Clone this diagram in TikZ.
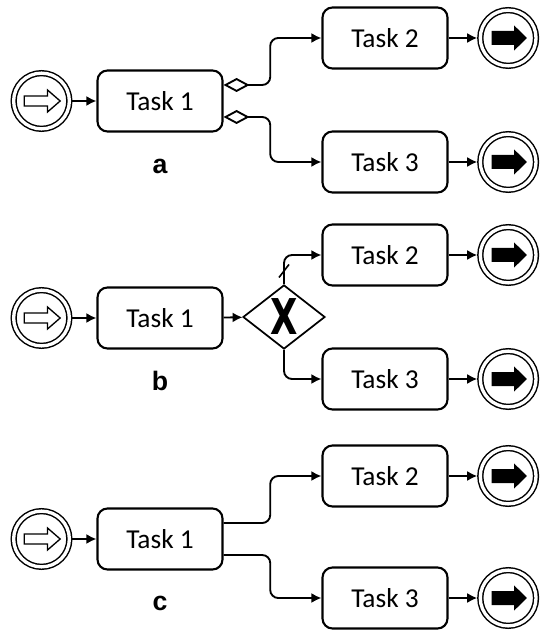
\documentclass[tikz,border=0pt]{standalone}
\usepackage{fontspec}
\setmainfont{Carlito}
\newfontfamily\panelfont{Liberation Sans}
\newfontfamily\gatefont{DejaVu Sans}
\usetikzlibrary{positioning,shapes.geometric,arrows.meta}

\tikzset{
  task/.style={draw, line width=1.6pt, rounded corners=7.5pt, minimum width=93.75pt,
    minimum height=45.75pt, inner sep=0pt, font=\fontsize{20.5}{24}\selectfont},
  event/.style={circle, draw, line width=1.1pt, double, double distance=2.5pt,
    minimum size=41.8pt, inner sep=0pt, outer sep=2.3pt},
  startevent/.style={event, path picture={
    \draw[line width=1pt, fill=white] ([shift={(-13pt,-3.75pt)}]path picture bounding box.center)
      -- ++(17.5pt,0) -- ++(0,-4.5pt) -- ++(9.5pt,8.25pt) -- ++(-9.5pt,8.25pt)
      -- ++(0,-4.5pt) -- ++(-17.5pt,0) -- cycle;}},
  endevent/.style={event, path picture={
    \fill ([shift={(-12.5pt,-5.25pt)}]path picture bounding box.center)
      -- ++(17pt,0) -- ++(0,-4.15pt) -- ++(9.5pt,9.4pt) -- ++(-9.5pt,9.4pt)
      -- ++(0,-4.15pt) -- ++(-17pt,0) -- cycle;}},
  flow/.style={line width=1.4pt, rounded corners=6pt, -{Latex[length=7.5pt,width=7.5pt]}},
  condflow/.style={flow, {Diamond[open,length=19.5pt,width=10.5pt]}-{Latex[length=7.5pt,width=7.5pt]}},
  gateway/.style={diamond, draw, line width=1.3pt, minimum width=61.5pt, minimum height=48pt,
    inner sep=0pt, font=\gatefont\bfseries\fontsize{37}{37}\selectfont},
  panel/.style={font=\panelfont\bfseries\fontsize{20}{24}\selectfont}
}

\begin{document}
\begin{tikzpicture}[x=0.75pt,y=-0.75pt]
\useasboundingbox (0,0) rectangle (541,630);

% a: conditional flows
\node[task] (a1) at (160,101) {Task 1};
\node[task] (a2) at (385,38) {Task 2};
\node[task] (a3) at (385,162) {Task 3};
\node[startevent, left=18pt of a1] (a0) {};
\node[panel] (la) at (160,166) {a};
\draw[flow] (a0) -- (a1);
\draw[condflow] ([yshift=12pt]a1.east) -- ++(35pt,0) |- (a2);
\draw[condflow] ([yshift=-12pt]a1.east) -- ++(35pt,0) |- (a3);

% b: exclusive gateway with default flow
\node[task] (b1) at (160,318) {Task 1};
\node[task] (b2) at (385,255) {Task 2};
\node[task] (b3) at (385,379) {Task 3};
\node[startevent, left=18pt of b1] (b0) {};
\node[gateway] (bg) at (284,317) {\scalebox{0.72}[1]{X}};
\node[panel] (lb) at (160,381) {b};
\draw[flow] (b0) -- (b1);
\draw[flow] (b1) -- (bg);
\draw[flow] (bg.north) |- (b2);
\draw[flow] (bg.south) |- (b3);
\draw[line width=1.2pt] ([xshift=-3.75pt,yshift=5pt]bg.north) -- ++(7.5pt,9.75pt);

% c: plain split
\node[task] (c1) at (160,539) {Task 1};
\node[task] (c2) at (385,476) {Task 2};
\node[task] (c3) at (385,598) {Task 3};
\node[startevent, left=18pt of c1] (c0) {};
\node[panel] (lc) at (160,603) {c};
\draw[flow] (c0) -- (c1);
\draw[flow] ([yshift=12pt]c1.east) -- ++(35pt,0) |- (c2);
\draw[flow] ([yshift=-12pt]c1.east) -- ++(35pt,0) |- (c3);

% end events
\foreach \t in {a2,a3,b2,b3,c2,c3} {
  \node[endevent, right=21.5pt of \t] (\t e) {};
  \draw[flow] (\t) -- (\t e);
}
\end{tikzpicture}
\end{document}
